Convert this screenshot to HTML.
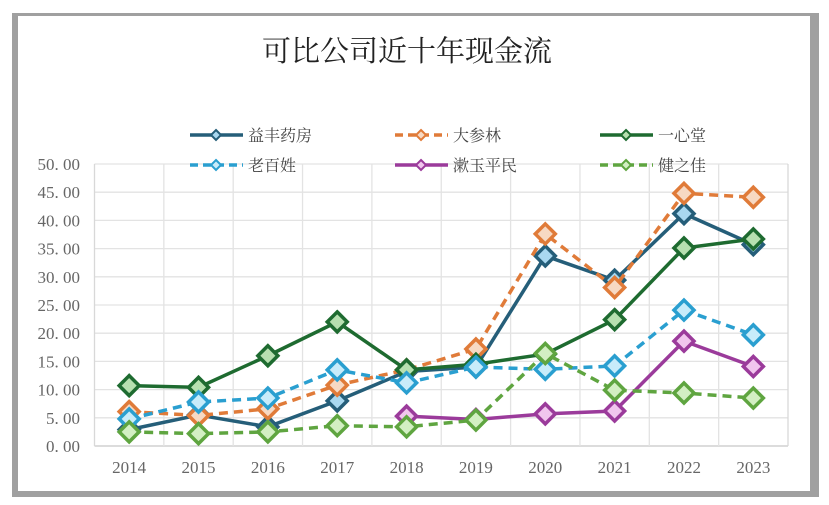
<!DOCTYPE html>
<html><head><meta charset="utf-8">
<style>
body{margin:0;background:#fff;font-family:"Liberation Serif","Noto Serif CJK SC",serif;}
#wrap{position:relative;width:829px;height:505px;overflow:hidden;}
</style></head>
<body>
<div id="wrap">
<svg id="chart" width="829" height="505" xmlns="http://www.w3.org/2000/svg">
  <rect x="12" y="13" width="807" height="484" fill="#a0a0a0"/>
  <rect x="18" y="16" width="792" height="475" fill="#fff"/>
  <text x="407" y="61" text-anchor="middle" font-size="29" fill="#222" font-family="'Liberation Serif','Noto Serif CJK SC',serif">可比公司近十年现金流</text>
  <g id="grid"></g><g id="axes"></g><g id="series"></g><g id="legend"></g>
</svg>
</div>
<script>
const years=['2014','2015','2016','2017','2018','2019','2020','2021','2022','2023'];
const yTicks=[0,5,10,15,20,25,30,35,40,45,50];
const names=['益丰药房','大参林','一心堂','老百姓','漱玉平民','健之佳'];
const yifeng=[2.9,5.5,3.4,8.0,13.2,14.0,33.7,29.4,41.2,35.7];
const dashenlin=[6.1,5.4,6.6,10.8,13.5,17.2,37.6,28.1,44.8,44.1];
const yixintang=[10.7,10.4,16.0,22.0,13.5,14.5,16.3,22.4,35.1,36.7];
const laobaixing=[4.8,7.8,8.5,13.5,11.2,14.0,13.6,14.2,24.1,19.7];
const shuyu=[null,null,null,null,5.3,4.7,5.7,6.2,18.6,14.1];
const jianzhijia=[2.5,2.2,2.5,3.6,3.4,4.6,16.4,9.9,9.4,8.5];

const NS='http://www.w3.org/2000/svg';
const L=94.5,R=788,T=164,B=446;
const xs=i=>L+(R-L)/years.length*(i+0.5);
const ys=v=>B-(v/50)*(B-T);
function mk(tag,attrs,parent){const e=document.createElementNS(NS,tag);for(const k in attrs)e.setAttribute(k,attrs[k]);parent.appendChild(e);return e;}
const grid=document.getElementById('grid'),axes=document.getElementById('axes'),ser=document.getElementById('series'),leg=document.getElementById('legend');
yTicks.forEach(t=>{
  const l=mk('line',{x1:L,x2:R,y1:ys(t),y2:ys(t),stroke:t===0?'#c8c8c8':'#e3e3e3','stroke-width':1.3},grid);
  
  
  const tx=mk('text',{x:80,y:ys(t)+6,'text-anchor':'end','font-size':17,fill:'#666'},axes);
  tx.textContent=t.toFixed(2).replace('.','. ');
  
  
});
for(let i=0;i<=years.length;i++){
  const x=L+(R-L)/years.length*i;
  const l=mk('line',{x1:x,x2:x,y1:T,y2:B,stroke:i===0||i===years.length?'#d8d8d8':'#e3e3e3','stroke-width':1.3},grid);
  
  
}
years.forEach((y,i)=>{
  const tx=mk('text',{x:xs(i),y:473,'text-anchor':'middle','font-size':17,fill:'#666'},axes);
  tx.textContent=y;
  
  
});
const specs=[
 {d:yifeng,c:'#255e79',f:'#a9d8f0',dash:''},
 {d:dashenlin,c:'#e07b39',f:'#f7d9c3',dash:'9 6'},
 {d:yixintang,c:'#1e6b30',f:'#b7e0b0',dash:''},
 {d:laobaixing,c:'#2a9fd0',f:'#c8ecfa',dash:'9 6'},
 {d:shuyu,c:'#9b3b9b',f:'#f1c6ee',dash:''},
 {d:jianzhijia,c:'#5fa540',f:'#d3efc3',dash:'9 6'}
];
function diamond(x,y,r){return `M${x},${y-r} L${x+r},${y} L${x},${y+r} L${x-r},${y} Z`;}
specs.forEach((s,k)=>{
  const g=mk('g',{},ser);
  
  
  let pts=[];s.d.forEach((v,i)=>{if(v!==null)pts.push([xs(i),ys(v)]);});
  const p=mk('polyline',{points:pts.map(p=>p.join(',')).join(' '),fill:'none',stroke:s.c,'stroke-width':3.5,'stroke-dasharray':s.dash},g);
  
  
  pts.forEach(pt=>{
    const m=mk('path',{d:diamond(pt[0],pt[1],10),fill:s.f,stroke:s.c,'stroke-width':3.5},g);
    
    
  });
  const col=k%3,row=Math.floor(k/3);
  const lx=[190,395,600][col],ly=[135,165][row];
  const lg=mk('g',{},leg);
  
  
  mk('line',{x1:lx,x2:lx+53,y1:ly,y2:ly,stroke:s.c,'stroke-width':3.5,'stroke-dasharray':s.dash?'8 5':''},lg);
  mk('path',{d:diamond(lx+26,ly,5),fill:s.f,stroke:s.c,'stroke-width':2},lg);
  const t=mk('text',{x:lx+58,y:ly+6,'font-size':16,fill:'#444','font-family':"'Liberation Serif','Noto Serif CJK SC',serif"},lg);
  t.textContent=names[k];
});
</script>
</body></html>
